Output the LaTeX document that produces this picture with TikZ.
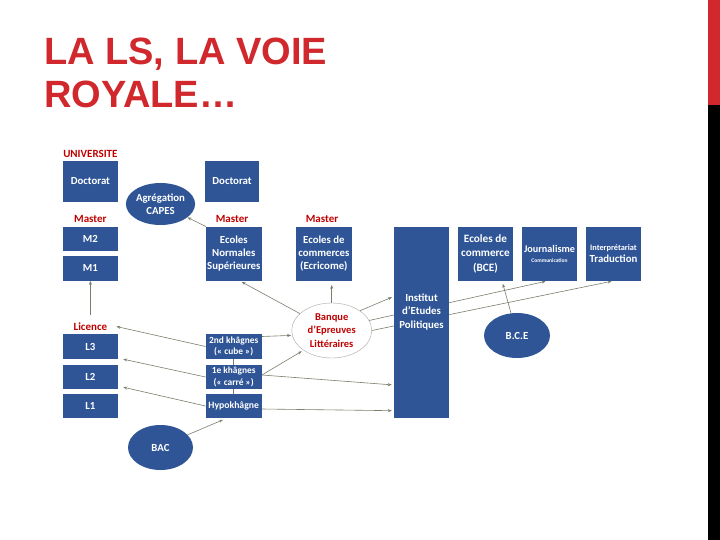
\documentclass[tikz,border=0pt]{standalone}
\usepackage{fontspec}
\setmainfont{Carlito}
\newfontfamily\titlefont{Liberation Sans}
\usetikzlibrary{shapes.geometric,arrows.meta,calc}
\definecolor{boxblue}{RGB}{47,85,151}
\definecolor{darkred}{RGB}{192,0,0}
\definecolor{titlered}{RGB}{208,40,44}
\definecolor{arrcol}{RGB}{120,128,108}
\pgfdeclarelayer{bg}
\pgfsetlayers{bg,main}
\begin{document}
\begin{tikzpicture}[x=1pt,y=-1pt,
  bluebox/.style={fill=boxblue,text=white,align=center,inner sep=0pt,
    font=\bfseries\fontsize{10.8}{13}\selectfont},
  blueell/.style={ellipse,fill=boxblue,text=white,align=center,inner sep=0pt,
    font=\bfseries\fontsize{10.8}{13}\selectfont},
  redlabel/.style={text=darkred,font=\bfseries\fontsize{11}{12}\selectfont,inner sep=1pt},
  conn/.style={draw=arrcol,line width=0.6pt,-{Stealth[length=4pt,width=3pt]}},
  plain/.style={draw=arrcol,line width=0.6pt}
]
\useasboundingbox (0,0) rectangle (720,540);
\begin{pgfonlayer}{bg}
\fill[white] (0,0) rectangle (720,540);
\end{pgfonlayer}
% right bar
\fill[titlered] (708,0) rectangle (720,105);
\fill[black] (708,105) rectangle (720,540);
% title
\node[anchor=base west,inner sep=0pt,text=titlered,font=\titlefont\bfseries\fontsize{38}{43}\selectfont] (t1) at (44,65) {LA LS, LA VOIE};
\node[anchor=base west,inner sep=0pt,text=titlered,font=\titlefont\bfseries\fontsize{38}{43}\selectfont] (t2) at (44,108) {ROYALE…};

% labels
\node[redlabel] (univ) at (90.4,154) {UNIVERSITE};
\node[redlabel] (mast1) at (90.4,218.5) {Master};
\node[redlabel] (mast2) at (232,218.5) {Master};
\node[redlabel] (mast3) at (322,218.5) {Master};
\node[redlabel] (lic) at (90.4,326.5) {Licence};

% left column
\node[bluebox,minimum width=55.3pt,minimum height=41pt] (docL) at (90.4,181.2) {Doctorat};
\node[bluebox,minimum width=55.3pt,minimum height=24pt] (m2) at (90.4,238.7) {M2};
\node[bluebox,minimum width=55.3pt,minimum height=24.7pt] (m1) at (90.4,268.3) {M1};
\node[bluebox,minimum width=55.3pt,minimum height=25pt] (l3) at (90.4,346.5) {L3};
\node[bluebox,minimum width=55.3pt,minimum height=24pt] (l2) at (90.4,377) {L2};
\node[bluebox,minimum width=55.3pt,minimum height=24pt] (l1) at (90.4,406) {L1};

% ellipses
\node[blueell,minimum width=65pt,minimum height=42pt] (agr) at (160.5,204) {Agrégation\\CAPES};
\node[blueell,minimum width=65pt,minimum height=45pt] (bac) at (160.5,447.5) {BAC};
\node[blueell,minimum width=66pt,minimum height=45pt] (bce) at (517,335.5) {B.C.E};

% middle column
\node[bluebox,minimum width=54pt,minimum height=41pt] (docR) at (232,181.2) {Doctorat};
\node[bluebox,minimum width=55.5pt,minimum height=54pt] (ens) at (233.8,253.7) {Ecoles\\Normales\\Supérieures};
\node[bluebox,minimum width=55.7pt,minimum height=54pt] (eco) at (323.9,253.7) {Ecoles de\\commerces\\(Ecricome)};
\node[bluebox,minimum width=56pt,minimum height=25pt,font=\bfseries\fontsize{9.4}{11.5}\selectfont] (k2) at (233.7,346.5) {2nd khâgnes\\(« cube »)};
\node[bluebox,minimum width=56pt,minimum height=24pt,font=\bfseries\fontsize{9.4}{11.5}\selectfont] (k1) at (233.7,377) {1e khâgnes\\(« carré »)};
\node[bluebox,minimum width=56pt,minimum height=24pt,font=\bfseries\fontsize{9.7}{11.5}\selectfont] (hypo) at (233.7,406) {Hypokhâgne};

% banque
\node[ellipse,draw=gray!70,line width=0.4pt,fill=white,minimum width=80pt,minimum height=55pt,inner sep=0pt,align=center,text=darkred,font=\bfseries\fontsize{10.5}{13.2}\selectfont] (banque) at (331.7,330.5) {Banque\\d’Epreuves\\Littéraires};

% right part
\node[fill=boxblue,minimum width=55pt,minimum height=191.3pt,inner sep=0pt] (iep) at (421.5,322.4) {};
\node[text=white,align=center,inner sep=0pt,font=\bfseries\fontsize{10.8}{13.5}\selectfont] (iept) at (421.5,312) {Institut\\d’Etudes\\Politiques};
\node[bluebox,minimum width=55pt,minimum height=54pt,font=\bfseries\fontsize{11.2}{14.3}\selectfont] (bcebox) at (485.5,253.7) {Ecoles de\\commerce\\(BCE)};
\node[bluebox,minimum width=55pt,minimum height=54pt,font=\bfseries\fontsize{10.2}{11}\selectfont] (jour) at (549.5,253.7) {Journalisme\\[-1pt]{\fontsize{5.5}{6}\selectfont Communication}};
\node[bluebox,minimum width=55pt,minimum height=54pt,font=\bfseries\fontsize{10.8}{12}\selectfont] (interp) at (613.5,253.7) {{\fontsize{8.3}{9}\selectfont Interprétariat}\\Traduction};

% connectors
\coordinate (c1) at (90.4,315);
\begin{pgfonlayer}{bg}
\draw[conn] (c1) -- (m1.south);
\draw[conn] (ens.north west) -- (agr);
\draw[conn,shorten >=2pt] (banque.152) -- ([xshift=6pt]ens.south);
\draw[conn,shorten >=4pt] (banque.north) -- (banque.north |- eco.south);
\draw[conn,shorten >=2pt] (banque.35) -- ([yshift=26pt]iep.west);
\draw[conn,shorten >=2pt] (banque.15) -- ([xshift=-2pt]jour.south);
\draw[conn,shorten >=2pt] (banque.0) -- (interp.south);
\draw[conn,shorten >=3pt] (bce.105) -- ([xshift=16.5pt]bcebox.south);
\draw[conn] (k2.west) -- ([xshift=8pt]lic.east);
\draw[conn] (k1.west) -- ([xshift=5pt]l3.south east);
\draw[conn] (hypo.west) -- ([xshift=5pt,yshift=2pt]l2.south east);
\draw[conn,shorten >=1pt] ([yshift=10pt]k2.east) -- (banque.187);
\draw[conn,shorten >=2pt] ([yshift=2pt]k1.east) -- (banque.215);
\draw[conn,shorten >=2pt] ([yshift=2pt]k1.east) -- ([yshift=-62.6pt]iep.west);
\draw[conn,shorten >=2pt] ([yshift=-3pt]hypo.east) -- ([yshift=-88.3pt]iep.west);
\draw[conn,shorten >=4pt] (bac.25) -- ([xshift=-7pt]hypo.south);
\draw[plain] (k2.south) -- (k1.north);
\draw[plain] (k1.south) -- (hypo.north);
\end{pgfonlayer}
\end{tikzpicture}
\end{document}
